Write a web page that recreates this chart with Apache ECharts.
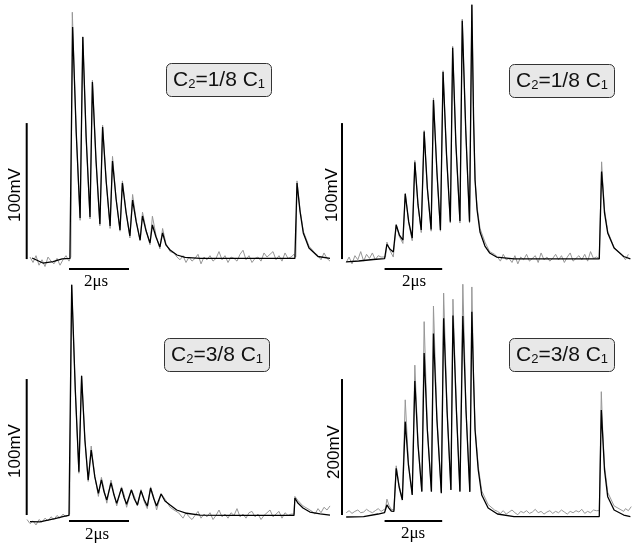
<!DOCTYPE html>
<html>
<head>
<meta charset="utf-8">
<script src="https://cdn.jsdelivr.net/npm/echarts@6/dist/echarts.min.js"></script>
<style>html,body{margin:0;padding:0;background:#fff}#main{width:640px;height:545px}</style>
</head>
<body>
<div id="main"></div>
<script>
// time in µs, voltage in mV. black = simulation, gray = measurement

// top left, C2 = 1/8 C1
var tlBlack = [[1.07,0.3],[1.43,-3.4],[1.77,-2.4],[2.07,-0.4],[2.33,0],[2.37,0],
  [2.42,170.1],[2.54,92.9],[2.67,29.7],[2.76,162.8],[2.87,90.0],[3.0,30.4],
  [3.08,129.7],[3.2,72.4],[3.33,25.3],[3.42,96.6],[3.54,56.5],[3.67,23.8],
  [3.75,71.6],[3.87,43.7],[4.0,20.9],[4.08,55.4],[4.2,34.1],[4.33,16.5],
  [4.42,42.9],[4.54,26.8],[4.67,13.5],[4.75,31.2],[4.87,20.1],[5.0,11.3],
  [5.08,24.6],[5.2,15.7],[5.33,8.4],[5.42,18.7],[5.53,9.9],[5.67,6.2],[5.9,2.5],[6.17,0.7],[6.67,0],
  [9.83,0],[9.86,0],[9.9,55.4],[10.0,34.8],[10.11,18.7],[10.3,7.6],[10.6,1.4],[11,0]];
var tlGrayPulses = [[2.36,1],[2.41,181],[2.54,93],[2.67,28],[2.76,163],[2.87,89],[3.0,29],
  [3.08,131],[3.2,72],[3.33,24],[3.42,98],[3.54,57],[3.67,22],[3.75,75],[3.87,44],[4.0,20],
  [4.08,57],[4.2,35],[4.33,15],[4.42,47],[4.54,28],[4.67,13],[4.75,34],[4.87,21],[5.0,10],
  [5.08,31],[5.2,17],[5.33,7],[5.42,22],[5.53,11],[5.67,5],[5.8,4],[5.9,1]];
var tlGrayPulse2 = [[9.86,1],[9.9,57],[10.0,36],[10.11,20],[10.3,9],[10.5,4]];
var tlNoisePre = [1,-3,2,-5,-1,-6,1,-2,-4,0,-5,-1,2,-2];
var tlNoiseMid = [-1,2,-3,1,-2,0,3,-4,1,-1,2,-2,0,5,-1,2,-3,1,0,-2,3,6,-1,2,-3,0,1,-2,4,1,3,5,-1,2,-2,4,0,1,3];
var tlNoiseEnd = [2,-1,4,0,-2];

// top right, C2 = 1/8 C1
var trBlack = [[0.9,-2.6],[1.33,-1.9],[1.83,-0.8],[2.22,-0.1],
  [2.3,10.4],[2.4,6.9],[2.52,4.7],[2.62,24.6],[2.73,17.2],[2.85,13.5],
  [2.93,47.4],[3.05,26.8],[3.17,15],[3.26,70.7],[3.37,39.3],[3.48,20.9],
  [3.58,93.2],[3.69,51.8],[3.82,21.3],[3.9,116.5],[4.02,63.5],[4.14,20.9],
  [4.23,137.1],[4.35,76],[4.48,27],[4.56,154.9],[4.67,84.9],[4.81,27.5],
  [4.89,174.8],[5.01,94.4],[5.14,27],[5.22,186.3],[5.28,101.8],[5.33,57.6],[5.4,35.6],
  [5.5,19.4],[5.67,9.1],[5.83,4],[6.07,1],[6.67,-0.4],
  [9.6,-0.4],[9.68,63.8],[9.72,52.5],[9.78,33.4],[9.89,18.7],[10.11,7.6],[10.44,1.4],[10.67,-0.4]];
var trGrayPulses = [[2.25,1],[2.3,12],[2.4,6],[2.52,1],[2.62,25],[2.73,16],[2.85,11],
  [2.93,48],[3.05,26],[3.17,13],[3.26,72],[3.37,39],[3.48,19],[3.58,94],[3.69,51],[3.82,20],
  [3.9,118],[4.02,63],[4.14,20],[4.23,138],[4.35,76],[4.48,26],[4.56,156],[4.67,85],[4.81,26],
  [4.89,176],[5.01,94],[5.14,26],[5.22,187],[5.28,102],[5.33,58],[5.4,38],[5.5,22],[5.67,12],[5.83,5],[6.0,3]];
var trGrayPulse2 = [[9.6,0],[9.68,71],[9.72,56],[9.78,36],[9.89,20],[10.11,8],[10.3,4]];
var trNoisePre = [-3,1,-4,2,-1,5,-2,3,0,4,-1,2,1];
var trNoiseMid = [1,-2,3,-1,0,-3,2,-4,1,-1,3,-2,0,2,-3,4,-1,1,-2,0,3,-1,2,-3,1,4,-2,0,2,-1,3,-2,5,0,1];
var trNoiseEnd = [2,-1,3];

// bottom left, C2 = 3/8 C1
var blBlack = [[1.0,-3.5],[1.33,-3.8],[1.83,-1.3],[2.2,0.6],[2.3,1.0],
  [2.39,170.4],[2.51,93.2],[2.63,33.2],[2.72,103.5],[2.83,56.5],[2.94,27.1],
  [3.04,49.1],[3.16,29.3],[3.28,17.3],[3.38,27.1],[3.47,18.2],[3.56,12.4],
  [3.7,24.9],[3.8,16],[3.89,9.9],[4.05,21],[4.14,13.8],[4.22,9.2],
  [4.38,19.7],[4.48,13.1],[4.58,8.7],[4.7,19.2],[4.81,12.4],[4.91,7.9],
  [5.02,21],[5.13,13.1],[5.22,7.9],[5.37,16.8],[5.5,11.6],[5.67,8.7],[5.89,5],[6.22,2.6],[6.67,1.3],[7.67,1],
  [9.8,1],[9.83,13.8],[9.93,10.1],[10.1,6.5],[10.33,3.5],[10.67,2.1],[11,1.3]];
var blGrayPulses = [[2.32,2],[2.39,171],[2.51,93],[2.63,32],[2.72,104],[2.83,57],[2.94,26],
  [3.04,52],[3.16,30],[3.28,15],[3.38,29],[3.47,20],[3.56,10],[3.7,27],[3.8,17],[3.89,8],
  [4.05,22],[4.14,16],[4.22,7],[4.38,20],[4.48,15],[4.58,8],[4.7,20],[4.81,11],[4.91,6],
  [5.02,22],[5.13,14],[5.22,5],[5.37,17],[5.5,13],[5.67,7],[5.8,5],[5.95,3]];
var blGrayPulse2 = [[9.8,2],[9.83,15],[9.93,12],[10.1,8],[10.33,5]];
var blNoisePre = [-2,-5,-3,-6,-2,-4,-1,-3,0,-2,1,-1,2,0];
var blNoiseMid = [2,-1,3,0,-2,1,4,-1,2,0,3,-2,1,5,0,2,-1,3,1,6,0,2,-1,3,4,0,2,-2,1,3,5,0,2,4,-1,3,1,2];
var blNoiseEnd = [4,2,6,3,7,5,8];

// bottom right, C2 = 3/8 C1
var brBlack = [[0.9,-0.3],[1.5,0.4],[2.0,4.1],[2.22,6.3],
  [2.3,17.4],[2.37,12.9],[2.45,8.5],[2.54,8],[2.62,71.3],[2.72,43.8],[2.83,24.7],
  [2.93,139.9],[3.04,76.2],[3.17,32.1],[3.26,199.7],[3.37,105.6],[3.5,36.9],
  [3.58,240.9],[3.69,127.6],[3.83,36.9],[3.9,269.6],[4.02,142.4],[4.17,34.6],
  [4.25,291.9],[4.37,154.1],[4.5,39.4],[4.57,296],[4.69,155.6],[4.81,36.9],
  [4.91,295.3],[5.02,155.6],[5.15,36.5],[5.22,301.6],[5.28,201.2],[5.33,127.6],[5.44,68.8],
  [5.56,32.1],[5.78,12.9],[6.1,4.1],[6.67,0.4],
  [9.6,0.4],[9.67,157],[9.72,117.4],[9.78,68.8],[9.89,29.6],[10.11,10],[10.44,2.6],[10.67,0.4]];
var brGrayPulses = [[2.25,12],[2.3,26],[2.37,17],[2.45,11],[2.54,10],[2.62,75],[2.72,46],[2.83,27],
  [2.93,172],[3.04,80],[3.17,33],[3.26,223],[3.37,108],[3.5,38],[3.58,287],[3.69,130],[3.83,38],
  [3.9,310],[4.02,145],[4.17,36],[4.25,329],[4.37,156],[4.5,40],[4.57,320],[4.69,158],[4.81,38],
  [4.91,342],[5.02,158],[5.15,38],[5.22,338],[5.28,205],[5.33,132],[5.44,74],[5.56,38],[5.78,18],[6.0,10]];
var brGrayPulse2 = [[9.6,9],[9.67,184],[9.72,125],[9.78,75],[9.89,36],[10.11,16],[10.44,8]];
var brNoisePre = [6,9,5,8,10,6,7,11,8,6,9,12,8];
var brNoiseMid = [8,5,9,4,7,10,6,3,8,6,9,5,7,11,6,8,4,7,9,5,8,6,10,7,4,8,6,9,7,11,5,8,6,10,9];
var brNoiseEnd = [12,9,15];

// scale bars (vertical: mV, horizontal: 2 µs)
var tlBars = [[[0.89,-0.5],[0.89,99.5]], [[2.3,-7.8],[4.3,-7.8]]];
var trBars = [[[0.757,-0.5],[0.757,99.5]], [[2.22,-7.8],[4.2,-7.8]]];
var blBars = [[[0.89,1.3],[0.89,101.3]], [[2.3,-3.1],[4.3,-3.1]]];
var brBars = [[[0.757,2.6],[0.757,202.6]], [[2.22,-6.2],[4.2,-6.2]]];

var boxLabels = ['{n|C}{s|2}{n|=1/8 C}{s|1}', '{n|C}{s|2}{n|=1/8 C}{s|1}',
                 '{n|C}{s|2}{n|=3/8 C}{s|1}', '{n|C}{s|2}{n|=3/8 C}{s|1}'];
var barLabels = ['100mV', '100mV', '100mV', '200mV'];

// sampled noise -> [t, v]
function sampled(t0, dt, vals) {
  return vals.map(function (v, i) { return [+(t0 + i * dt).toFixed(3), v]; });
}

var panels = [
  { black: tlBlack, gray: sampled(1.0, 0.1, tlNoisePre).concat(tlGrayPulses, sampled(6.0, 0.1, tlNoiseMid), tlGrayPulse2, sampled(10.6, 0.1, tlNoiseEnd)), bars: tlBars },
  { black: trBlack, gray: sampled(0.9, 0.1, trNoisePre).concat(trGrayPulses, sampled(6.1, 0.1, trNoiseMid), trGrayPulse2, sampled(10.4, 0.1, trNoiseEnd)), bars: trBars },
  { black: blBlack, gray: sampled(0.9, 0.1, blNoisePre).concat(blGrayPulses, sampled(6.0, 0.1, blNoiseMid), blGrayPulse2, sampled(10.4, 0.1, blNoiseEnd)), bars: blBars },
  { black: brBlack, gray: sampled(0.9, 0.1, brNoisePre).concat(brGrayPulses, sampled(6.1, 0.1, brNoiseMid), brGrayPulse2, sampled(10.5, 0.1, brNoiseEnd)), bars: brBars }
];

var myChart = echarts.init(document.getElementById('main'));

var grids = [
  { left: 0, top: 0, width: 330, height: 272 },
  { left: 320, top: 0, width: 330, height: 272 },
  { left: 0, top: 272, width: 330, height: 272 },
  { left: 320, top: 272, width: 330, height: 272 }
];
var yRanges = [[-10, 190], [-10, 190], [-20, 180], [-40, 360]];

var series = [];
panels.forEach(function (p, i) {
  series.push({ type: 'line', xAxisIndex: i, yAxisIndex: i, data: p.gray, symbol: 'none',
    lineStyle: { color: '#979797', width: 1 }, z: 2 });
  series.push({ type: 'line', xAxisIndex: i, yAxisIndex: i, data: p.black, symbol: 'none',
    lineStyle: { color: '#000', width: 1.3 }, z: 3 });
  p.bars.forEach(function (b) {
    series.push({ type: 'line', xAxisIndex: i, yAxisIndex: i, data: b, symbol: 'none',
      lineStyle: { color: '#000', width: 2 }, z: 4 });
  });
});

var boxPos = [[166, 64], [509, 65], [164, 339], [509, 339]];
var titles = boxLabels.map(function (txt, i) {
  return {
    text: txt, left: boxPos[i][0], top: boxPos[i][1],
    padding: [6, 7, 6, 7],
    backgroundColor: '#e8e8e8', borderColor: '#333', borderWidth: 1, borderRadius: 5,
    textStyle: {
      fontWeight: 'normal',
      rich: {
        n: { fontFamily: 'Liberation Sans', fontSize: 21, fontWeight: 'normal', lineHeight: 21, color: '#111' },
        s: { fontFamily: 'Liberation Sans', fontSize: 13, fontWeight: 'normal', lineHeight: 13, color: '#111', verticalAlign: 'bottom', padding: [9, 0, 0, 0] }
      }
    }
  };
});

var mvPos = [[15.5, 195], [332.5, 195], [15.5, 451], [334.5, 452]];
var usPos = [[96, 282], [414, 282], [97, 535], [413, 534]];
var graphics = [];
barLabels.forEach(function (t, i) {
  graphics.push({ type: 'text', x: mvPos[i][0], y: mvPos[i][1], rotation: Math.PI / 2,
    style: { text: t, fontSize: 17, fontFamily: 'Liberation Sans', fill: '#000', align: 'center', verticalAlign: 'middle' } });
  graphics.push({ type: 'text', x: usPos[i][0], y: usPos[i][1],
    style: { text: '2\u03bcs', fontSize: 17, fontFamily: 'Liberation Serif', fill: '#000', align: 'center', verticalAlign: 'middle' } });
});

var option = {
  animation: false,
  backgroundColor: '#fff',
  title: titles,
  grid: grids,
  xAxis: grids.map(function (g, i) { return { type: 'value', gridIndex: i, min: 0, max: 11, show: false }; }),
  yAxis: grids.map(function (g, i) { return { type: 'value', gridIndex: i, min: yRanges[i][0], max: yRanges[i][1], show: false }; }),
  graphic: graphics,
  series: series
};

myChart.setOption(option);
</script>
</body>
</html>
